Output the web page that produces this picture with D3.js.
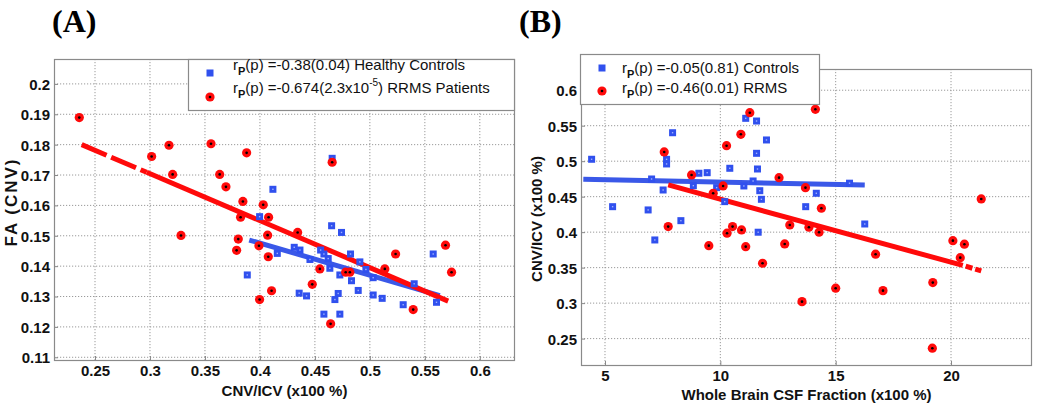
<!DOCTYPE html>
<html><head><meta charset="utf-8">
<script src="https://cdn.jsdelivr.net/npm/d3@7"></script>
<style>body{margin:0;background:#fff}svg{display:block}</style>
</head><body>
<svg id="c" width="1050" height="405"></svg>
<script>
// ---------- Panel A data ----------
const aTicksX = [0.25,0.3,0.35,0.4,0.45,0.5,0.55,0.6];
const aTicksY = [0.11,0.12,0.13,0.14,0.15,0.16,0.17,0.18,0.19,0.2];
const aControlsX = [0.3885,0.3997,0.4118,0.4158,0.4312,0.4364,0.4357,0.4424,0.4455,0.4552,0.4582,0.4582,0.4636,0.4657,0.4652,0.4742,0.4824,0.4909,0.4727,0.4833,0.4712,0.4682,0.4894,0.4964,0.5030,0.5030,0.5112,0.5303,0.5403,0.5606,0.4727,0.5576,0.4621];
const aControlsY = [0.1371,0.1563,0.1653,0.1442,0.1462,0.1453,0.1311,0.1302,0.1422,0.1453,0.1440,0.1242,0.1393,0.1755,0.1533,0.1511,0.1440,0.1414,0.1371,0.1352,0.1310,0.1290,0.1320,0.1389,0.1362,0.1305,0.1294,0.1273,0.1342,0.1281,0.1242,0.1440,0.1425];
const aRrmsX = [0.2357,0.3015,0.3173,0.3206,0.3282,0.3555,0.3634,0.3691,0.3879,0.3845,0.3824,0.3803,0.3788,0.3991,0.4030,0.4079,0.4070,0.4076,0.4343,0.4657,0.4545,0.4476,0.4106,0.3997,0.4643,0.5234,0.5688,0.5136,0.4780,0.4818,0.5743,0.5394];
const aRrmsY = [0.1889,0.1761,0.1798,0.1702,0.1501,0.1803,0.1702,0.1661,0.1773,0.1613,0.1561,0.1489,0.1452,0.1467,0.1602,0.1561,0.1502,0.1431,0.1511,0.1742,0.1391,0.1340,0.1319,0.1290,0.1210,0.1440,0.1469,0.1391,0.1380,0.1380,0.1380,0.1257];
const aFitControls = [[0.3903,0.1486],[0.5636,0.1303]];
const aFitRrms = [[0.2379,0.1800],[0.2970,0.1709],[0.5712,0.1285]]; // start, end of dashed part, end
const aLegend = ["=-0.38(0.04) Healthy Controls", "=-0.674(2.3x10", "-5", ") RRMS Patients"];

// ---------- Panel B data ----------
const bTicksX = [5,10,15,20];
const bTicksY = [0.25,0.3,0.35,0.4,0.45,0.5,0.55,0.6];
const bControlsX = [4.42,5.33,6.87,7.02,7.16,7.52,7.67,7.67,7.93,8.29,8.83,9.07,9.43,9.84,10.19,10.41,11.02,11.10,11.42,11.57,11.57,11.61,11.64,11.71,11.78,12.0,13.70,14.16,15.6,16.26];
const bControlsY = [0.5027,0.4359,0.4313,0.4749,0.389,0.4594,0.5026,0.4961,0.5401,0.4162,0.4655,0.4830,0.4838,0.4627,0.443,0.490,0.4651,0.5604,0.4721,0.5566,0.5111,0.489,0.3999,0.4584,0.4463,0.5299,0.4359,0.4548,0.469,0.4115];
const bRrmsX = [7.567,7.74,8.753,9.50,9.69,10.12,10.27,10.29,10.53,10.89,10.92,11.10,11.277,11.83,12.545,12.79,13.01,13.54,13.69,13.84,14.12,14.28,14.38,15.0,16.73,17.05,19.19,19.21,20.08,20.40,20.58,21.31];
const bRrmsY = [0.5130,0.4078,0.4806,0.3810,0.4548,0.4651,0.5218,0.3985,0.4078,0.5379,0.4031,0.3796,0.5683,0.3562,0.4768,0.3834,0.4101,0.3021,0.4627,0.4069,0.5731,0.3999,0.4337,0.321,0.3689,0.3176,0.2365,0.3289,0.388,0.3641,0.383,0.4468];
const bFitControls = [[4.06,0.4745],[16.26,0.4665]];
const bFitRrms = [[7.74,0.4665],[20.51,0.3532],[21.31,0.3454]]; // start, end of solid part, end of dashed part
const bLegend = ["=-0.05(0.81) Controls", "=-0.46(0.01) RRMS"];

const BLUE = "#3050ee", RED = "#ff0a0a", LBLUE = "#3a58e8";
const svg = d3.select("#c");

function panel(o){
  const g = svg.append("g");
  const x = d3.scaleLinear().domain(o.xd).range(o.xr);
  const y = d3.scaleLinear().domain(o.yd).range(o.yr);
  const [x0,x1] = o.xr, [y1,y0] = o.yr;
  // grid
  g.append("g").selectAll("line").data(o.tx).join("line")
    .attr("x1",d=>x(d)).attr("x2",d=>x(d)).attr("y1",y0).attr("y2",y1)
    .attr("stroke","#9a9a9a").attr("stroke-width",1).attr("stroke-dasharray","1.2,1.8");
  g.append("g").selectAll("line").data(o.ty).join("line")
    .attr("y1",d=>y(d)).attr("y2",d=>y(d)).attr("x1",x0).attr("x2",x1)
    .attr("stroke","#9a9a9a").attr("stroke-width",1).attr("stroke-dasharray","1.2,1.8");
  // axes via d3 axis
  const ax = g.append("g").attr("transform",`translate(0,${y1})`)
    .call(d3.axisBottom(x).tickValues(o.tx).tickSize(-4).tickPadding(8).tickFormat(o.fx));
  const ay = g.append("g").attr("transform",`translate(${x0},0)`)
    .call(d3.axisLeft(y).tickValues(o.ty).tickSize(-4).tickPadding(4).tickFormat(d3.format("~g")));
  [ax,ay].forEach(a=>{
    a.select(".domain").remove();
    a.selectAll("line").attr("stroke","#888");
    a.selectAll("text").attr("font-family","Liberation Sans, Arial, sans-serif")
      .attr("font-size",15).attr("font-weight","bold").attr("fill","#111");
  });
  ax.selectAll("text").attr("dy","0.55em");
  ay.selectAll("text").attr("dy","0.36em");
  // frame
  g.append("rect").attr("x",x0+0.5).attr("y",y0+0.5).attr("width",x1-x0-1).attr("height",y1-y0)
    .attr("fill","none").attr("stroke","#8a8a8a").attr("stroke-width",1.2);
  // fit lines
  const line = d3.line().x(d=>x(d[0])).y(d=>y(d[1]));
  g.append("path").attr("d",line(o.fitC)).attr("stroke",LBLUE).attr("stroke-width",5).attr("fill","none");
  if(o.redDashFirst){
    g.append("path").attr("d",line(o.fitR.slice(0,2))).attr("stroke",RED).attr("stroke-width",5)
      .attr("fill","none").attr("stroke-dasharray","27,5");
    g.append("path").attr("d",line(o.fitR.slice(1))).attr("stroke",RED).attr("stroke-width",5).attr("fill","none");
  } else {
    g.append("path").attr("d",line(o.fitR.slice(0,2))).attr("stroke",RED).attr("stroke-width",5).attr("fill","none");
    g.append("path").attr("d",line(o.fitR.slice(1))).attr("stroke",RED).attr("stroke-width",5)
      .attr("fill","none").attr("stroke-dasharray","7,3").attr("stroke-dashoffset",-3);
  }
  // points
  const cs = o.cX.map((v,i)=>[v,o.cY[i]]);
  const rs = o.rX.map((v,i)=>[v,o.rY[i]]);
  g.append("g").selectAll("rect").data(cs).join("rect")
    .attr("x",d=>x(d[0])-3.5).attr("y",d=>y(d[1])-3.5).attr("width",7).attr("height",7).attr("fill",BLUE);
  g.append("g").selectAll("rect").data(cs).join("rect")
    .attr("x",d=>x(d[0])-0.7).attr("y",d=>y(d[1])-0.7).attr("width",1.4).attr("height",1.4).attr("fill","#9fb0ff");
  g.append("g").selectAll("circle").data(rs).join("circle")
    .attr("cx",d=>x(d[0])).attr("cy",d=>y(d[1])).attr("r",4.6).attr("fill",RED);
  g.append("g").selectAll("circle").data(rs).join("circle")
    .attr("cx",d=>x(d[0])).attr("cy",d=>y(d[1])).attr("r",1.3).attr("fill","#000");
  // axis labels
  g.append("text").attr("x",(x0+x1)/2).attr("y",o.xlY).attr("text-anchor","middle")
    .attr("font-family","Liberation Sans, Arial, sans-serif").attr("font-size",15).attr("font-weight","bold")
    .attr("fill","#111").text(o.xlabel);
  g.append("text").attr("transform",`translate(${o.ylX},${o.ylY}) rotate(-90)`).attr("text-anchor","middle")
    .attr("font-family","Liberation Sans, Arial, sans-serif").attr("font-size",o.ylSize).attr("font-weight","bold")
    .attr("letter-spacing",o.ylLS).attr("fill","#111").text(o.ylabel);
  // title
  svg.append("text").attr("x",o.tX).attr("y",32).attr("font-family","Liberation Serif, Times New Roman, serif")
    .attr("font-size",32).attr("font-weight","bold").attr("fill","#000").text(o.title);
  // legend
  const L = o.leg;
  g.append("rect").attr("x",L.x+0.5).attr("y",L.y+0.5).attr("width",L.w).attr("height",L.h)
    .attr("fill","#fff").attr("stroke","#8a8a8a").attr("stroke-width",1.2);
  g.append("rect").attr("x",L.mx-3.5).attr("y",L.my1-3.5).attr("width",7).attr("height",7).attr("fill",BLUE);
  g.append("circle").attr("cx",L.mx).attr("cy",L.my2).attr("r",4.6).attr("fill",RED);
  g.append("circle").attr("cx",L.mx).attr("cy",L.my2).attr("r",1.3).attr("fill","#000");
  const t1 = g.append("text").attr("x",L.tx).attr("y",L.b1).attr("font-family","Liberation Sans, Arial, sans-serif")
    .attr("font-size",15).attr("fill","#111");
  t1.append("tspan").text("r");
  t1.append("tspan").attr("font-size",11).attr("dy",5).attr("font-weight","bold").text("P");
  t1.append("tspan").attr("dy",-5).text("(p) " + o.legTexts[0]);
  const t2 = g.append("text").attr("x",L.tx).attr("y",L.b2).attr("font-family","Liberation Sans, Arial, sans-serif")
    .attr("font-size",15).attr("fill","#111");
  t2.append("tspan").text("r");
  t2.append("tspan").attr("font-size",11).attr("dy",5).attr("font-weight","bold").text("P");
  t2.append("tspan").attr("dy",-5).text("(p) " + o.legTexts[1]);
  if(o.legTexts.length>2){
    t2.append("tspan").attr("font-size",10).attr("dy",-7).text(o.legTexts[2]);
    t2.append("tspan").attr("dy",7).text(o.legTexts[3]);
  }
}

panel({
  xd:[0.2127,0.632], xr:[54,515], yd:[0.1091,0.2082], yr:[360,59],
  tx:aTicksX, ty:aTicksY, fx:d3.format("~g"),
  cX:aControlsX, cY:aControlsY, rX:aRrmsX, rY:aRrmsY,
  fitC:aFitControls, fitR:aFitRrms, redDashFirst:true,
  xlabel:"CNV/ICV (x100 %)", xlY:396, ylabel:"FA (CNV)", ylX:17, ylY:202, ylSize:17, ylLS:2,
  title:"(A)", tX:52,
  leg:{x:188,y:59,w:326,h:51,mx:210,my1:73,my2:97,tx:233,b1:70,b2:93},
  legTexts:aLegend
});
panel({
  xd:[3.96,23.51], xr:[581,1032], yd:[0.2128,0.6299], yr:[365,69],
  tx:bTicksX, ty:bTicksY, fx:d3.format("~g"),
  cX:bControlsX, cY:bControlsY, rX:bRrmsX, rY:bRrmsY,
  fitC:bFitControls, fitR:bFitRrms, redDashFirst:false,
  xlabel:"Whole Brain CSF Fraction (x100 %)", xlY:400, ylabel:"CNV/ICV  (x100 %)", ylX:542, ylY:219, ylSize:15, ylLS:0,
  title:"(B)", tX:519,
  leg:{x:580,y:54,w:239,h:50,mx:602,my1:68,my2:91,tx:622,b1:73,b2:93},
  legTexts:bLegend
});
</script>
</body></html>
